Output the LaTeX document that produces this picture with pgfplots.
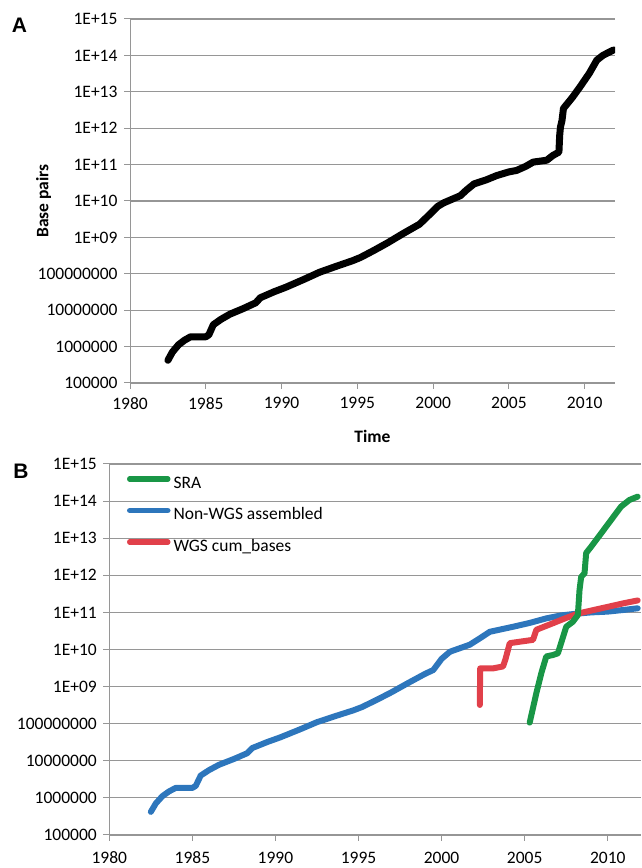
\documentclass[border=0pt]{standalone}
\usepackage{pgfplots}
\pgfplotsset{compat=1.18}
\usepackage{fontspec}
\setmainfont{Carlito}
\newfontfamily\arialfont{Liberation Sans}
\definecolor{sraGreen}{RGB}{25,150,70}
\definecolor{nwBlue}{RGB}{45,118,188}
\definecolor{wgsRed}{RGB}{225,64,74}
\definecolor{gridGray}{RGB}{150,150,150}

\begin{document}
\begin{tikzpicture}
\useasboundingbox (0bp,0bp) rectangle (642bp,868bp);

% ---------------- Panel A ----------------
\begin{axis}[
  scale only axis,
  at={(130bp,485bp)}, anchor=south west,
  width=485bp, height=364bp,
  xmin=1980, xmax=2012,
  ymode=log, ymin=1e5, ymax=1e15,
  axis x line*=bottom, axis y line*=left,
  axis line style={gridGray, line width=1bp},
  tick style={gridGray, line width=1bp},
  major tick length=6bp,
  tick align=outside,
  yminorticks=false, xminorticks=false,
  ymajorgrids,
  major grid style={gridGray, line width=1.1bp},
  xtick={1980,1985,1990,1995,2000,2005,2010},
  xticklabels={1980,1985,1990,1995,2000,2005,2010},
  ytick={1e5,1e6,1e7,1e8,1e9,1e10,1e11,1e12,1e13,1e14,1e15},
  yticklabels={100000,1000000,10000000,100000000,1E+09,1E+10,1E+11,1E+12,1E+13,1E+14,1E+15},
  ticklabel style={font=\fontsize{17.5bp}{20bp}\selectfont, text=black},
  yticklabel style={xshift=-3bp},
  xticklabel style={yshift=-5bp},
  xlabel={\bfseries Time},
  ylabel={\bfseries Base pairs},
  xlabel style={font=\fontsize{17.5bp}{20bp}\selectfont, at={(axis description cs:0.5,0)}, anchor=center, yshift=-53bp},
  ylabel style={font=\fontsize{17.5bp}{20bp}\selectfont, at={(axis description cs:0,0.5)}, anchor=center, rotate=0, yshift=86.5bp},
]
\addplot[black, line width=7bp, line join=round, line cap=round] coordinates {
(1982.5,4.2e5) (1982.8,7.1e5) (1983.2,1.12e6) (1983.6,1.5e6) (1984.0,1.86e6)
(1985.0,1.86e6) (1985.2,2.1e6) (1985.5,4.0e6) (1986.0,5.6e6) (1986.6,7.8e6)
(1987.5,1.12e7) (1988.3,1.6e7) (1988.6,2.2e7) (1989.5,3.2e7) (1990.3,4.3e7)
(1991.5,7.1e7) (1992.5,1.1e8) (1993.6,1.6e8) (1994.7,2.3e8) (1995.2,2.8e8)
(1996.1,4.4e8) (1997.0,7.1e8) (1998.0,1.26e9) (1999.1,2.3e9) (1999.7,4.0e9)
(2000.3,7.1e9) (2000.7,8.9e9) (2001.8,1.4e10) (2002.2,2.0e10) (2002.7,2.95e10)
(2003.5,3.8e10) (2004.2,5.0e10) (2005.0,6.3e10) (2005.5,6.9e10) (2006.1,8.9e10)
(2006.6,1.17e11) (2007.5,1.32e11) (2007.9,1.78e11) (2008.3,2.2e11) (2008.35,6.3e11)
(2008.4,1.07e12) (2008.5,1.6e12) (2008.6,3.5e12) (2009.2,7.1e12) (2009.7,1.38e13)
(2010.3,3.2e13) (2010.8,7.4e13) (2011.2,1.0e14) (2011.9,1.41e14)
};
\end{axis}

% ---------------- Panel B ----------------
\begin{axis}[
  scale only axis,
  at={(109.3bp,33bp)}, anchor=south west,
  width=531.7bp, height=371bp,
  xmin=1980, xmax=2012,
  ymode=log, ymin=1e5, ymax=1e15,
  axis x line*=bottom, axis y line*=left,
  axis line style={gridGray, line width=1bp},
  tick style={gridGray, line width=1bp},
  major tick length=6bp,
  tick align=outside,
  yminorticks=false, xminorticks=false,
  ymajorgrids,
  major grid style={gridGray, line width=1.1bp},
  xtick={1980,1985,1990,1995,2000,2005,2010},
  xticklabels={1980,1985,1990,1995,2000,2005,2010},
  ytick={1e5,1e6,1e7,1e8,1e9,1e10,1e11,1e12,1e13,1e14,1e15},
  yticklabels={100000,1000000,10000000,100000000,1E+09,1E+10,1E+11,1E+12,1E+13,1E+14,1E+15},
  ticklabel style={font=\fontsize{17.5bp}{20bp}\selectfont, text=black},
  yticklabel style={xshift=-3bp},
  xticklabel style={yshift=-7.5bp},
  legend image code/.code={\draw[#1, line width=5.5bp, line cap=round] (0bp,5.5bp) -- (38bp,5.5bp);},
  legend style={draw=none, fill=none, inner sep=0pt, outer sep=0pt,
    at={(axis description cs:0.0333,0.969)}, anchor=north west,
    row sep=13.5bp, column sep=2bp,
    font=\fontsize{17.5bp}{20bp}\selectfont,
    nodes={inner sep=1bp, text height=12bp, text depth=4bp, anchor=west}},
  legend cell align=left,
]
\addlegendimage{sraGreen}
\addlegendentry{SRA}
\addlegendimage{nwBlue}
\addlegendentry{Non-WGS assembled}
\addlegendimage{wgsRed}
\addlegendentry{WGS cum\_bases}

\addplot[forget plot, nwBlue, line width=6bp, line join=round, line cap=round] coordinates {
(1982.5,4.2e5) (1982.8,7.1e5) (1983.2,1.12e6) (1983.6,1.5e6) (1984.0,1.86e6)
(1985.0,1.86e6) (1985.2,2.1e6) (1985.5,4.0e6) (1986.0,5.6e6) (1986.6,7.8e6)
(1987.5,1.12e7) (1988.3,1.6e7) (1988.6,2.2e7) (1989.5,3.2e7) (1990.3,4.3e7)
(1991.5,7.1e7) (1992.5,1.1e8) (1993.6,1.6e8) (1994.7,2.3e8) (1995.2,2.8e8)
(1996.1,4.4e8) (1997.0,7.1e8) (1998.0,1.26e9) (1999.0,2.2e9) (1999.5,2.8e9)
(2000.0,5.6e9) (2000.5,8.7e9) (2001.7,1.35e10) (2002.3,2.0e10) (2002.9,3.0e10)
(2004.3,4.1e10) (2005.3,5.2e10) (2006.3,6.9e10) (2007.2,8.3e10) (2008.2,9.3e10)
(2009.0,1.0e11) (2010.0,1.05e11) (2011.0,1.17e11) (2011.8,1.29e11)
};
\addplot[forget plot, wgsRed, line width=6bp, line join=round, line cap=round] coordinates {
(2002.3,3.2e8) (2002.32,3.1e9) (2003.1,3.1e9) (2003.7,3.5e9) (2003.85,5.6e9)
(2004.1,1.48e10) (2004.7,1.62e10) (2005.5,1.82e10) (2005.7,3.4e10) (2006.7,5.1e10)
(2007.5,7.1e10) (2008.2,9.3e10) (2009.0,1.12e11) (2010.0,1.41e11) (2011.0,1.78e11)
(2011.8,2.1e11)
};
\addplot[forget plot, sraGreen, line width=6bp, line join=round, line cap=round] coordinates {
(2005.3,1.07e8) (2005.7,6.6e8) (2006.0,2.3e9) (2006.3,6.5e9) (2006.7,7.1e9)
(2007.0,7.9e9) (2007.5,4.1e10) (2007.9,5.6e10) (2008.2,8.5e10) (2008.3,4.0e11)
(2008.4,9.1e11) (2008.6,1.12e12) (2008.7,4.0e12) (2009.0,5.9e12) (2009.6,1.35e13)
(2010.2,3.1e13) (2010.8,7.1e13) (2011.3,1.07e14) (2011.8,1.32e14)
};
\end{axis}

\node[font=\arialfont\bfseries\fontsize{21bp}{24bp}\selectfont] at (19.5bp,842.5bp) {A};
\node[font=\arialfont\bfseries\fontsize{21bp}{24bp}\selectfont] at (21bp,397bp) {B};
\end{tikzpicture}
\end{document}
